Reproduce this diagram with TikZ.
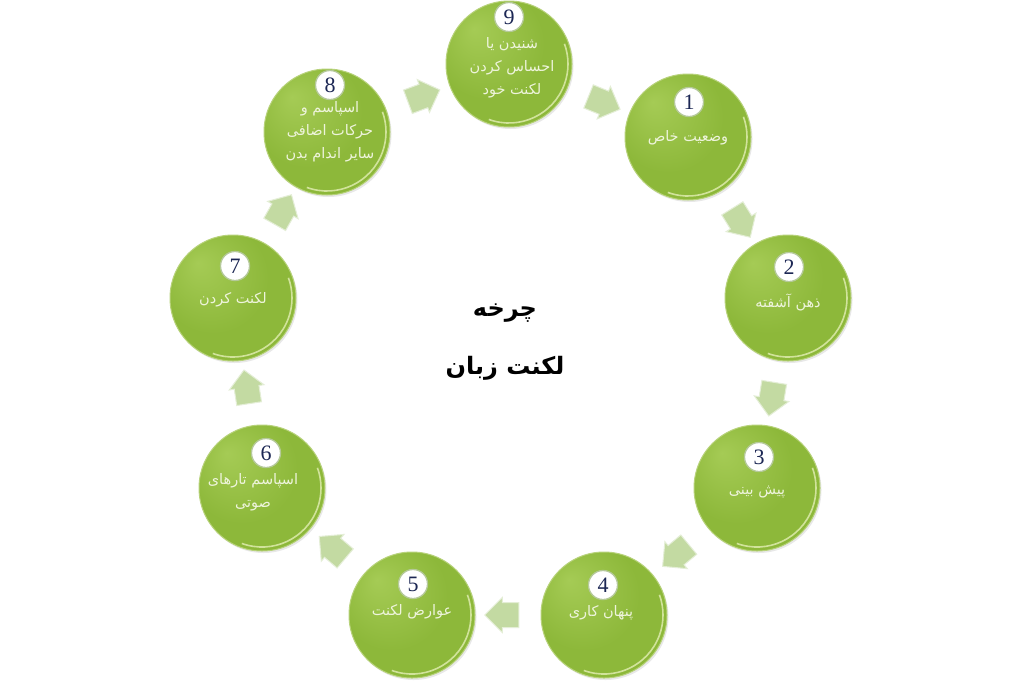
\documentclass[tikz,border=0pt]{standalone}
\usepackage{fontspec}
\newfontfamily\arabicfont[Script=Arabic]{DejaVu Sans}
\newfontfamily\numfont{Liberation Serif}
\TeXXeTstate=1
\usetikzlibrary{shapes.arrows,shadows}
\definecolor{glight}{HTML}{A5CB55}
\definecolor{gmid}{HTML}{8DB83A}
\definecolor{gedge}{HTML}{6C9822}
\definecolor{grim}{HTML}{B7D27A}
\definecolor{gshine}{HTML}{E2EEB4}
\definecolor{txtc}{HTML}{EEF4DC}
\definecolor{numc}{HTML}{1C2754}
\definecolor{numrim}{HTML}{B5C99A}
\definecolor{arrfill}{HTML}{C3DAA2}
\definecolor{arrrim}{HTML}{E4EED6}
\pgfdeclareradialshading{ballg}{\pgfpoint{-14bp}{14bp}}{%
  color(0bp)=(glight); color(22bp)=(gmid); color(44bp)=(gmid); color(50bp)=(gedge)}
\begin{document}
\begin{tikzpicture}[x=1pt,y=-1pt,
  stage/.style={circle, minimum size=126pt, inner sep=0pt, shading=ballg, draw=grim, line width=1pt,
    drop shadow={opacity=0.18, shadow xshift=1.5pt, shadow yshift=-2pt}},
  numbox/.style={circle, fill=white, draw=numrim, line width=1.3pt, minimum size=29pt, inner sep=0pt,
    text=numc, font=\numfont\fontsize{22}{22}\selectfont},
  label/.style={text=txtc, align=center, inner sep=0pt,
    font=\arabicfont\fontsize{14.5}{23}\selectfont},
  arr/.style={single arrow, minimum height=34pt, inner xsep=0pt, inner ysep=12pt,
    single arrow head extend=5pt, single arrow tip angle=90, fill=arrfill, draw=arrrim, line width=1pt,
    sloped, allow upside down},
  title/.style={text=black, inner sep=0pt, font=\arabicfont\bfseries\fontsize{24}{24}\selectfont}
]
\useasboundingbox[fill=white] (0,0) rectangle (1024,683);
% stages
\node[stage] (c9) at (509,64) {};
\node[stage] (c1) at (688,137) {};
\node[stage] (c2) at (788,298) {};
\node[stage] (c3) at (757,488) {};
\node[stage] (c4) at (604,615) {};
\node[stage] (c5) at (412,615) {};
\node[stage] (c6) at (262,488) {};
\node[stage] (c7) at (233,298) {};
\node[stage] (c8) at (327,132) {};
% shine rims
\foreach \n in {c1,c2,c3,c4,c5,c6,c7,c8,c9}{
  \begin{scope}[shift={(\n.center)}, x=1pt, y=1pt]
    \draw[gshine, line width=1.6pt, opacity=0.8] (-110:59) arc[start angle=-110, end angle=20, radius=59];
  \end{scope}
}
% numbers
\node[numbox] (n9) at (509,17) {9};
\node[numbox] (n1) at (689,102) {1};
\node[numbox] (n2) at (789,267) {2};
\node[numbox] (n3) at (759,457) {3};
\node[numbox] (n4) at (603,585) {4};
\node[numbox] (n5) at (413,584) {5};
\node[numbox] (n6) at (266,453) {6};
\node[numbox] (n7) at (235,266) {7};
\node[numbox] (n8) at (330,85) {8};
% labels
\node[label] (t9) at (512,68) {\beginR شنیدن یا\endR\\\beginR احساس کردن\endR\\\beginR لکنت خود\endR};
\node[label] (t1) at (688,138) {\beginR وضعیت خاص\endR};
\node[label] (t2) at (788,302) {\beginR ذهن آشفته\endR};
\node[label] (t3) at (757,492) {\beginR پیش بینی\endR};
\node[label] (t4) at (601,613) {\beginR پنهان کاری\endR};
\node[label] (t5) at (412,612) {\beginR عوارض لکنت\endR};
\node[label] (t6) at (253,492) {\beginR اسپاسم تارهای\endR\\\beginR صوتی\endR};
\node[label] (t7) at (233,300) {\beginR لکنت کردن\endR};
\node[label] (t8) at (330,132) {\beginR اسپاسم و\endR\\\beginR حرکات اضافی\endR\\\beginR سایر اندام بدن\endR};
% arrows
\path (c9) -- node[arr] (a91) {} (c1);
\path (c1) -- node[arr] (a12) {} (c2);
\path (c2) -- node[arr] (a23) {} (c3);
\path (c3) -- node[arr] (a34) {} (c4);
\path (c4) -- node[arr] (a45) {} (c5);
\path (c5) -- node[arr] (a56) {} (c6);
\path (c6) -- node[arr] (a67) {} (c7);
\path (c7) -- node[arr] (a78) {} (c8);
\path (c8) -- node[arr] (a89) {} (c9);
% title
\node[title] (title1) at (505,313) {\beginR چرخه\endR};
\node[title] (title2) at (505,368) {\beginR لکنت زبان\endR};
\end{tikzpicture}
\end{document}
